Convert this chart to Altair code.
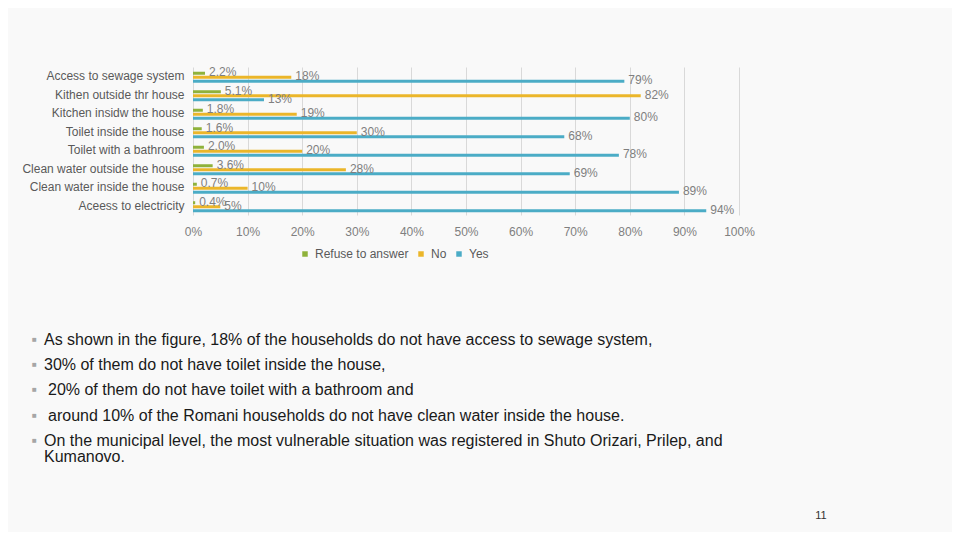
import altair as alt
import pandas as pd

categories = [
    "Access to sewage system",
    "Kithen outside thr house",
    "Kitchen insidw the house",
    "Toilet inside the house",
    "Toilet with a bathroom",
    "Clean water outside the house",
    "Clean water inside the house",
    "Aceess to electricity",
]
refuse = [2.2, 5.1, 1.8, 1.6, 2.0, 3.6, 0.7, 0.4]
no = [18, 82, 19, 30, 20, 28, 10, 5]
yes = [79, 13, 80, 68, 78, 69, 89, 94]
series = ["Refuse to answer", "No", "Yes"]
colors = ["#8fb23b", "#ebb62a", "#4bacc6"]
x_ticks = list(range(0, 101, 10))

bullet_lines = [
    "As shown in the figure, 18% of the households do not have access to sewage system,",
    "30% of them do not have toilet inside the house,",
    "20% of them do not have toilet with a bathroom and",
    "around 10% of the Romani households do not have clean water inside the house.",
    "On the municipal level, the most vulnerable situation was registered in Shuto Orizari, Prilep, and",
    "Kumanovo.",
]
bullet_marks = [True, True, True, True, True, False]
page_number = "11"

# layout (pixels relative to plot origin)
line_y = [273, 298, 323, 349, 374, 390]
line_indent = [0, 0, 4, 4, 0, 0]
text_x = -149
bullet_x = -161

rows = []
for i, c in enumerate(categories):
    for s, vals in zip(series, [refuse, no, yes]):
        v = vals[i]
        lab = f"{v:.1f}%" if s == "Refuse to answer" else f"{v:.0f}%"
        rows.append({"category": c, "series": s, "value": v, "label": lab})
df = pd.DataFrame(rows)

FONT = "Liberation Sans"

base = alt.Chart(df).encode(
    y=alt.Y(
        "category:N",
        sort=categories,
        scale=alt.Scale(paddingInner=0.35, paddingOuter=0.175),
        axis=alt.Axis(
            title=None, ticks=False, domain=False, labelPadding=9,
            labelFontSize=12, labelColor="#595959", labelFont=FONT,
        ),
    ),
    yOffset=alt.YOffset(
        "series:N", sort=series,
        scale=alt.Scale(domain=series, paddingInner=0, paddingOuter=0),
    ),
)

bars = base.mark_bar(height=alt.RelativeBandSize(band=0.75)).encode(
    x=alt.X(
        "value:Q",
        scale=alt.Scale(domain=[0, 100]),
        axis=alt.Axis(
            values=x_ticks, labelExpr="datum.value + '%'", title=None,
            grid=True, gridColor="#d9d9d9", ticks=False, domain=False,
            labelFlush=False, labelOverlap=False,
            labelPadding=11, labelFontSize=12, labelColor="#7f7f7f", labelFont=FONT,
        ),
    ),
    color=alt.Color(
        "series:N",
        scale=alt.Scale(domain=series, range=colors),
        legend=alt.Legend(
            title=None, orient="none", legendX=106, legendY=181,
            direction="horizontal", symbolType="square", symbolSize=30,
            symbolStrokeWidth=0, labelFontSize=12, labelColor="#595959",
            labelFont=FONT, columnPadding=6, labelOffset=4,
        ),
    ),
)

labels = base.mark_text(
    align="left", baseline="middle", dx=4, fontSize=12, color="#7f7f7f", font=FONT
).encode(x="value:Q", text="label:N")

layers = [bars, labels]

for txt, yy, ind, has_bullet in zip(bullet_lines, line_y, line_indent, bullet_marks):
    tdf = pd.DataFrame({"t": [txt]})
    layers.append(
        alt.Chart(tdf).mark_text(
            align="left", baseline="middle", fontSize=16, color="#1a1a1a", font=FONT
        ).encode(text="t:N", x=alt.value(text_x + ind), y=alt.value(yy))
    )
    if has_bullet:
        layers.append(
            alt.Chart(pd.DataFrame({"b": ["■"]})).mark_text(
                align="left", baseline="middle", fontSize=8, color="#a6a6a6", font=FONT
            ).encode(text="b:N", x=alt.value(bullet_x), y=alt.value(yy))
        )

layers.append(
    alt.Chart(pd.DataFrame({"p": [page_number]})).mark_text(
        align="center", baseline="middle", fontSize=11, color="#333333", font=FONT
    ).encode(text="p:N", x=alt.value(628), y=alt.value(449))
)

chart = alt.layer(*layers).properties(
    width=546,
    height=148,
    autosize=alt.AutoSizeParams(type="none"),
    padding={"left": 185, "top": 59, "right": 213, "bottom": 317},
    background="#f9f9f9",
).configure_view(stroke=None)

chart.save("out.html", embed_options={"renderer": "svg", "actions": False})
